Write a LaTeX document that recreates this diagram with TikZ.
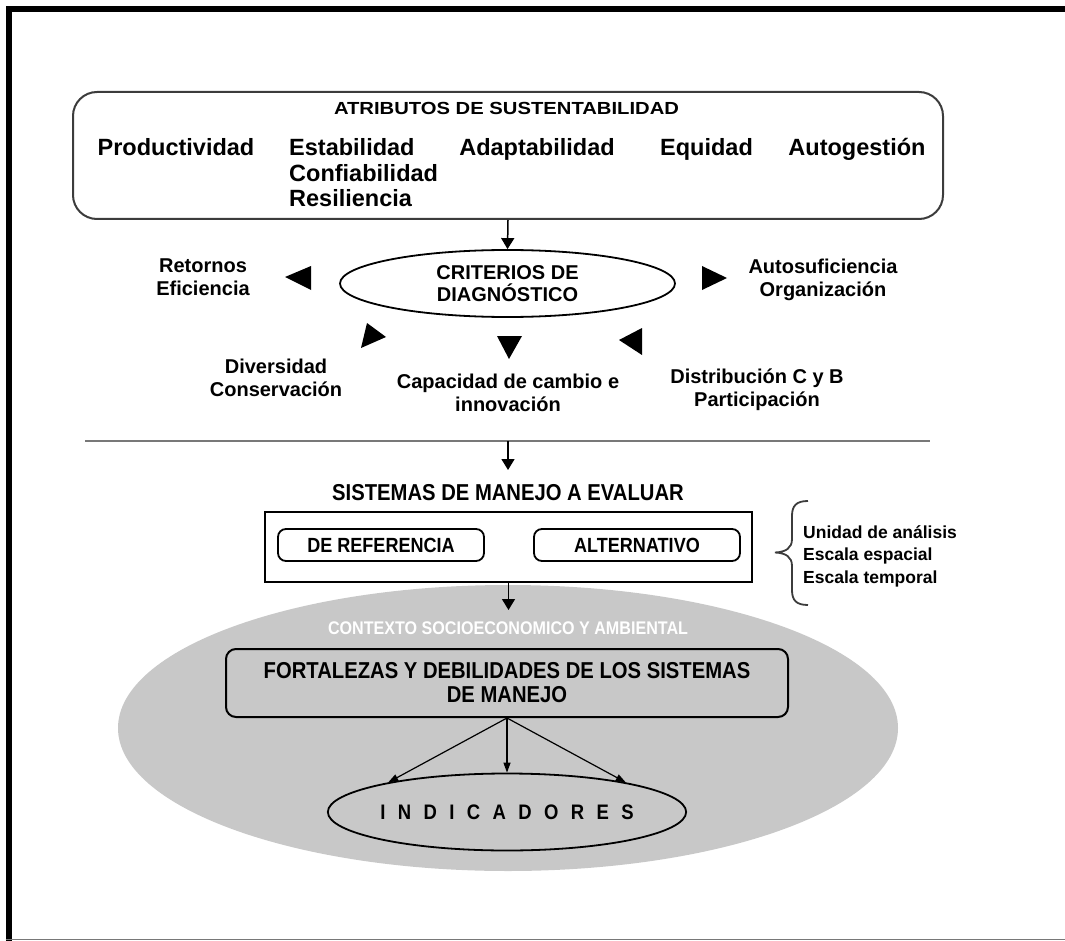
\documentclass[tikz,border=0pt]{standalone}
\usepackage{fontspec}
\usepackage{graphicx}
\setmainfont{Liberation Sans}
\newfontfamily\narrowfont[FakeStretch=0.88]{Liberation Sans}
\usetikzlibrary{shapes.geometric,arrows.meta}
\definecolor{boxline}{RGB}{60,60,60}
\definecolor{ctxgray}{RGB}{200,200,200}
\definecolor{hlgray}{RGB}{120,120,120}
\begin{document}
\begin{tikzpicture}[x=1pt,y=-1pt,
  lab/.style={font=\fontsize{20}{23}\selectfont\bfseries, align=center, inner sep=0pt},
  attrib/.style={font=\fontsize{23.5}{25.5}\selectfont\bfseries, inner sep=0pt, anchor=base},
  side/.style={font=\fontsize{17.5}{22.5}\selectfont\bfseries, align=left, inner sep=0pt},
  narrowb/.style={font=\narrowfont\bfseries\fontsize{#1}{#1}\selectfont, inner sep=0pt, align=center},
  arr/.style={line width=1.5pt, draw=black, -{Triangle[width=13pt,length=11pt]}},
  arrsm/.style={line width=1.2pt, draw=black, -{Triangle[width=7pt,length=10pt]}},
  tri/.style={fill=black}
]
\useasboundingbox (0,0) rectangle (1065,941);
% frame
\draw[line width=6pt] (8.5,941) -- (8.5,9) -- (1065,9);
\draw[hlgray, line width=1.5pt] (5.5,939.5) -- (1065,939.5);

% attributes box
\node[draw=boxline, line width=2pt, rounded corners=24pt, minimum width=870pt,
      minimum height=127pt, inner sep=0pt] (attr) at (508,155.5) {};
\node[font=\fontsize{17.5}{20}\selectfont\bfseries, inner sep=0pt, anchor=base] (attrtitle) at (506.5,115)
  {\resizebox{345pt}{\height}{ATRIBUTOS DE SUSTENTABILIDAD}};
\node[attrib] (prod) at (176,156) {Productividad};
\node[font=\fontsize{23.5}{25.5}\selectfont\bfseries, inner sep=0pt, align=left, anchor=west] (estab) at (289,173)
  {Estabilidad\\Confiabilidad\\Resiliencia};
\node[attrib] (adapt) at (537,156) {Adaptabilidad};
\node[attrib] (equi) at (706.5,156) {Equidad};
\node[attrib] (autog) at (857,156) {Autogestión};

% criteria
\node[ellipse, draw=black, line width=1.8pt, minimum width=335pt, minimum height=67pt,
      inner sep=0pt, font=\fontsize{20}{22.5}\selectfont\bfseries, align=center] (crit) at (507.5,283.5)
  {CRITERIOS DE\\DIAGNÓSTICO};
\draw[arr] (attr.south) -- (crit.north);

\node[lab] (ret) at (203,277) {Retornos\\Eficiencia};
\node[lab] (auto) at (823,280) {Autosuficiencia\\Organización};
\node[lab] (div) at (276,377.5) {Diversidad\\Conservación};
\node[lab] (cap) at (508,393) {Capacidad de cambio e\\innovación};
\node[lab] (dist) at (757,390) {Distribución C y B\\Participación};

\fill[tri] (285,277) -- (311,266) -- (311,290) -- cycle;
\fill[tri] (367,323) -- (386,337) -- (361,348) -- cycle;
\fill[tri] (497,336) -- (522,336) -- (509,359) -- cycle;
\fill[tri] (702,266) -- (727,278) -- (702,290) -- cycle;
\fill[tri] (619,340) -- (642,328) -- (642,355) -- cycle;

% separator
\coordinate (hlL) at (85,441);
\coordinate (hlR) at (930,441);
\coordinate (hlM) at (508,441);
\draw[hlgray, line width=2.2pt] (hlL) -- (hlR);
\coordinate (c2) at (508,470);
\draw[arr] (hlM) -- (c2);

% systems
\node[narrowb=23, anchor=base] (sistitle) at (508,500) {SISTEMAS DE MANEJO A EVALUAR};
\node[draw=black, line width=2pt, minimum width=487pt, minimum height=70pt, inner sep=0pt] (sisbox) at (508.5,547) {};
\node[narrowb=20.5, draw=black, line width=1.8pt, rounded corners=8pt, minimum width=206pt, minimum height=32pt] (ref) at (381,545) {DE REFERENCIA};
\node[narrowb=20.5, draw=black, line width=1.8pt, rounded corners=8pt, minimum width=206pt, minimum height=32pt] (alt) at (637,545) {ALTERNATIVO};

\draw[boxline, line width=1.8pt] (808,501) .. controls (796,501) and (792,506) .. (792,516) -- (792,539)
  .. controls (792,548) and (786,552) .. (775,552.5)
  .. controls (786,553) and (792,557) .. (792,566) -- (792,590)
  .. controls (792,600) and (796,605) .. (808,605);
\node[side, anchor=west] (scale) at (803,556) {Unidad de análisis\\Escala espacial\\Escala temporal};

% context
\node[ellipse, fill=ctxgray, minimum width=780pt, minimum height=286pt, inner sep=0pt] (ctx) at (508,728) {};
\coordinate (c3) at (508.5,610);
\draw[arr] (sisbox.south) -- (c3);
\node[narrowb=18.3, text=white, anchor=base] (ctxtitle) at (508,634) {CONTEXTO SOCIOECONOMICO Y AMBIENTAL};
\node[narrowb=23, draw=black, line width=2pt, fill=ctxgray, rounded corners=10pt, minimum width=562pt,
      minimum height=68pt, font=\narrowfont\bfseries\fontsize{23}{24}\selectfont] (fort) at (507,683)
  {FORTALEZAS Y DEBILIDADES DE LOS SISTEMAS\\DE MANEJO};
\node[ellipse, draw=black, line width=1.8pt, minimum width=326pt, minimum height=77pt, inner sep=0pt,
      font=\narrowfont\bfseries\fontsize{21}{21}\selectfont] (ind) at (507,812)
  {I\hspace{12.4pt}N\hspace{12.4pt}D\hspace{12.4pt}I\hspace{12.4pt}C\hspace{12.4pt}A\hspace{12.4pt}D\hspace{12.4pt}O\hspace{12.4pt}R\hspace{12.4pt}E\hspace{12.4pt}S};
\draw[arrsm] (fort.south) -- (ind.166);
\draw[arrsm] (fort.south) -- (ind.north);
\draw[arrsm] (fort.south) -- (ind.14);
\end{tikzpicture}
\end{document}
